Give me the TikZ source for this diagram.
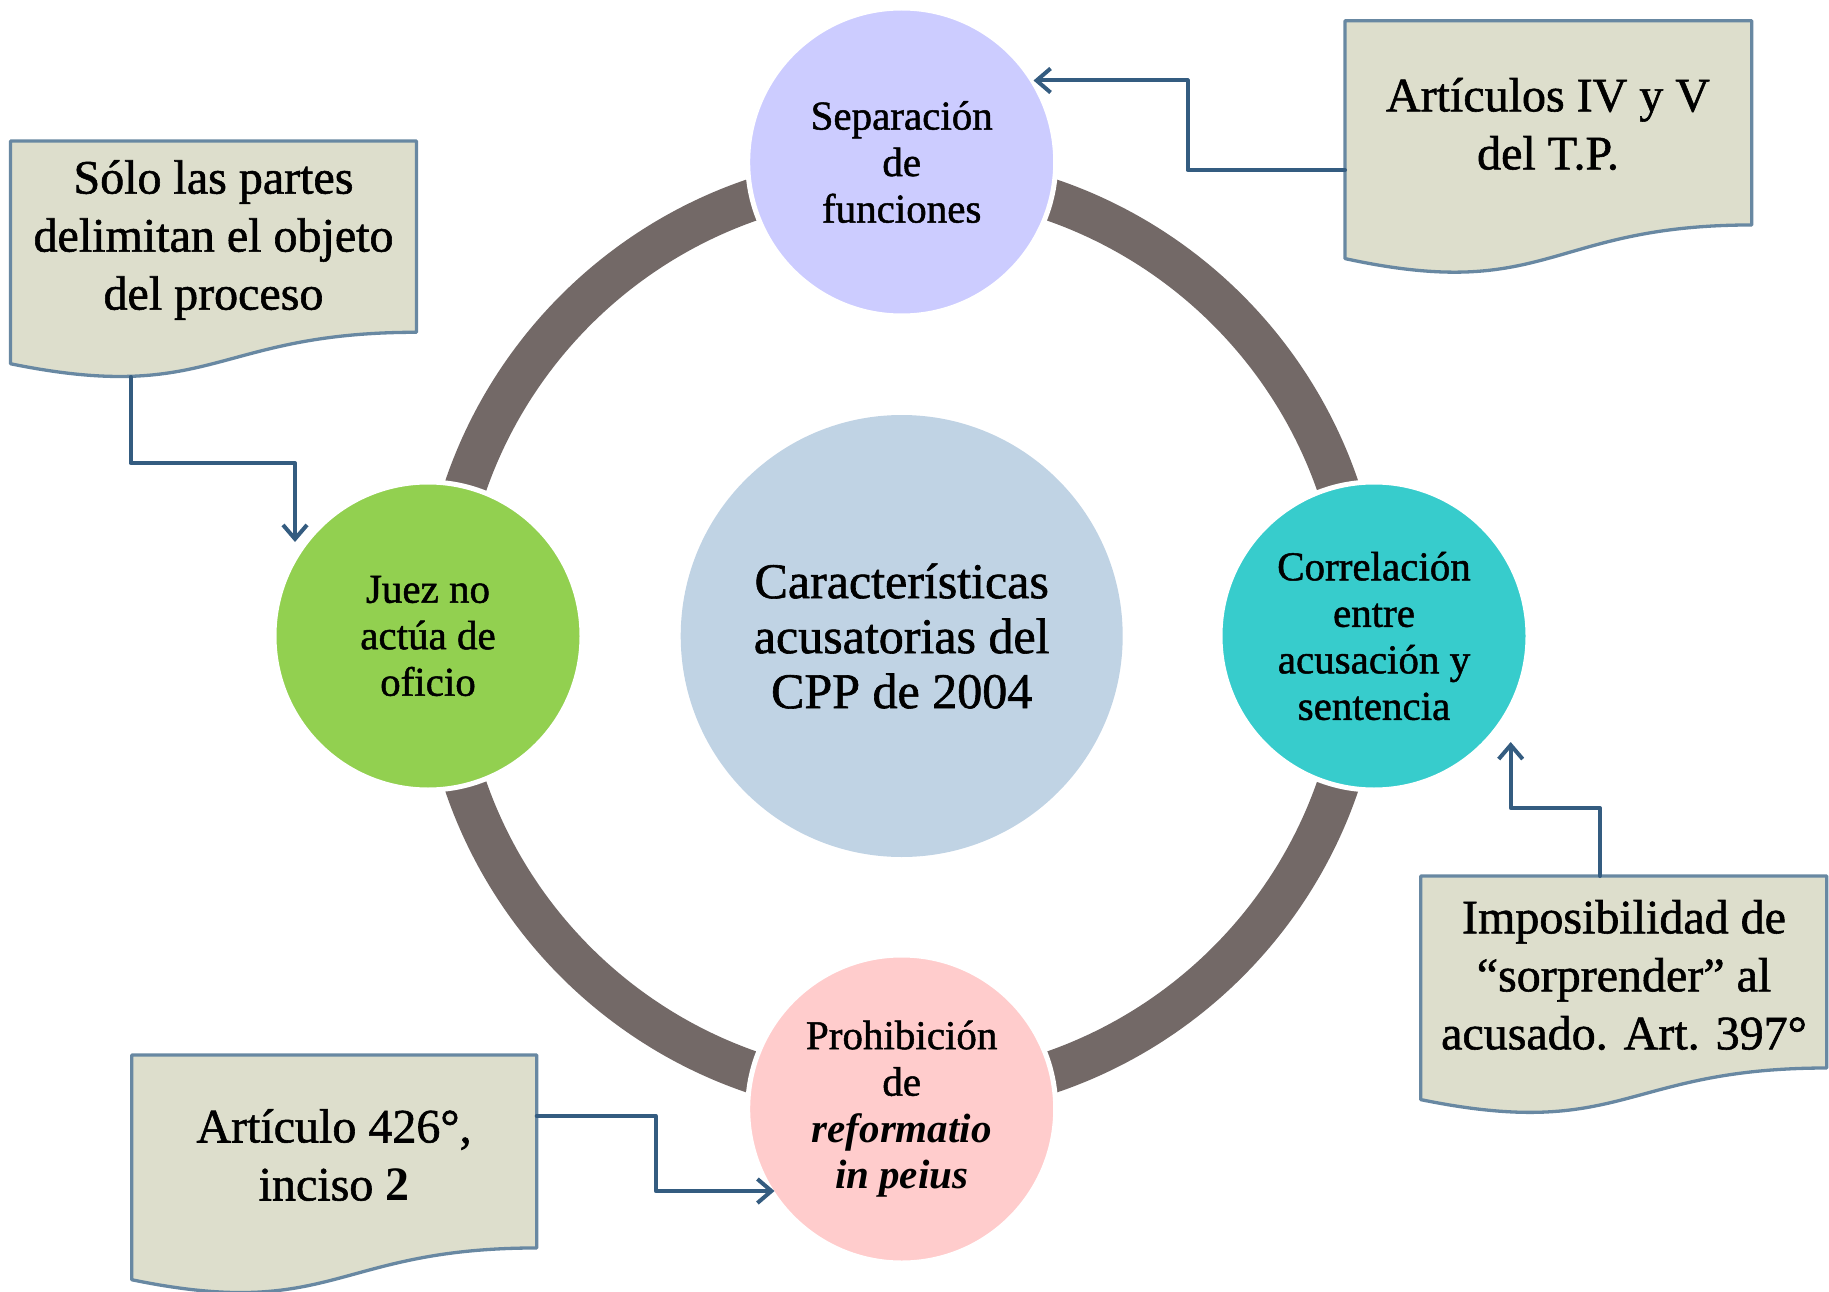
\documentclass[tikz,border=0pt]{standalone}
\usepackage{fontspec}
\setmainfont{Liberation Serif}
\newfontfamily\heavyserif{Liberation Serif}[FakeBold=1.2]
\newcommand{\realbold}[1]{{\normalfont\bfseries #1}}
\newcommand{\realbolditalic}[1]{{\normalfont\bfseries\itshape #1}}
\usetikzlibrary{arrows.meta}
\definecolor{ringc}{RGB}{115,105,103}
\definecolor{topc}{RGB}{204,204,255}
\definecolor{leftc}{RGB}{146,208,80}
\definecolor{rightc}{RGB}{55,204,204}
\definecolor{botc}{RGB}{255,204,204}
\definecolor{cenc}{RGB}{192,211,228}
\definecolor{boxfill}{RGB}{221,222,204}
\definecolor{boxline}{RGB}{104,136,162}
\definecolor{connc}{RGB}{52,92,128}
\tikzset{
  satellite/.style={circle, minimum size=308pt, inner sep=0pt, draw=white, line width=5pt, align=center, font=\fontsize{41}{46.5}\selectfont\heavyserif},
  centre/.style={circle, minimum size=442pt, inner sep=0pt, fill=cenc, align=center, font=\fontsize{50}{55}\selectfont\heavyserif},
  boxstyle/.style={fill=boxfill, draw=boxline, line width=3.3pt, line join=round},
  boxtext/.style={align=center, inner sep=0pt, font=\fontsize{48}{58}\selectfont\heavyserif},
  conn/.style={draw=connc, line width=4pt, line cap=round, line join=round, -{Straight Barb[length=14pt,width=24pt]}}
}
\newcommand{\docbox}[4]{%
  \path[boxstyle] (#1,#2) -- ({#1+#3},#2) -- ({#1+#3},{#2+0.802*#4})
    .. controls ({#1+0.5*#3},{#2+0.802*#4}) and ({#1+0.5*#3},{#2+1.1075*#4}) ..
    (#1,{#2+0.934*#4}) -- cycle;}
\begin{document}
\begin{tikzpicture}[x=1pt,y=-1pt]
\useasboundingbox (0,0) rectangle (1829,1292);
% ring
\coordinate (mid) at (901.7,636);
\draw[ringc, line width=42pt] (mid) circle[radius=461];
% centre
\node[centre] (cen) at (mid) {Características\\acusatorias del\\CPP de 2004};
% satellites
\node[satellite, fill=topc] (sep) at (901.7,162) {Separación\\de\\funciones};
\node[satellite, fill=leftc] (juez) at (428,636) {Juez no\\actúa de\\oficio};
\node[satellite, fill=rightc] (corr) at (1374,636) {Correlación\\entre\\acusación y\\sentencia};
\node[satellite, fill=botc] (proh) at (901.7,1109) {Prohibición\\de\\\realbolditalic{reformatio}\\\realbolditalic{in peius}};
% boxes
\docbox{10.5}{141}{406}{238.5}
\docbox{1345}{20.7}{406.7}{254.7}
\docbox{1420.7}{876}{406}{239.4}
\docbox{131.7}{1055}{405}{240.6}
\node[boxtext] (t1) at (213.5,240) {Sólo las partes\\delimitan el objeto\\del proceso};
\node[boxtext] (t2) at (1548,124) {Artículos IV y V\\del T.P.};
\node[boxtext] (t3) at (1624,975) {Imposibilidad de\\“sorprender” al\\acusado. Art. 397°};
\node[boxtext] (t4) at (334,1155) {Artículo 426°,\\inciso \realbold{2}};
% connector endpoints
\coordinate (b1s) at (130.6,377);
\coordinate (c2tip) at (295,542);
\coordinate (b2w) at (1345,170);
\coordinate (c1tip) at (1033.5,80.5);
\coordinate (b3n) at (1600,876);
\coordinate (c3tip) at (1510.7,742);
\coordinate (b4e) at (536.7,1116);
\coordinate (c4tip) at (774.5,1191);
% connectors
\draw[conn] (b1s) -- ++(0,86) -| (c2tip);
\draw[conn] (b2w) -- ++(-157.5,0) |- (c1tip);
\draw[conn] (b3n) -- ++(0,-68) -| (c3tip);
\draw[conn] (b4e) -- ++(119,0) |- (c4tip);
\end{tikzpicture}
\end{document}
